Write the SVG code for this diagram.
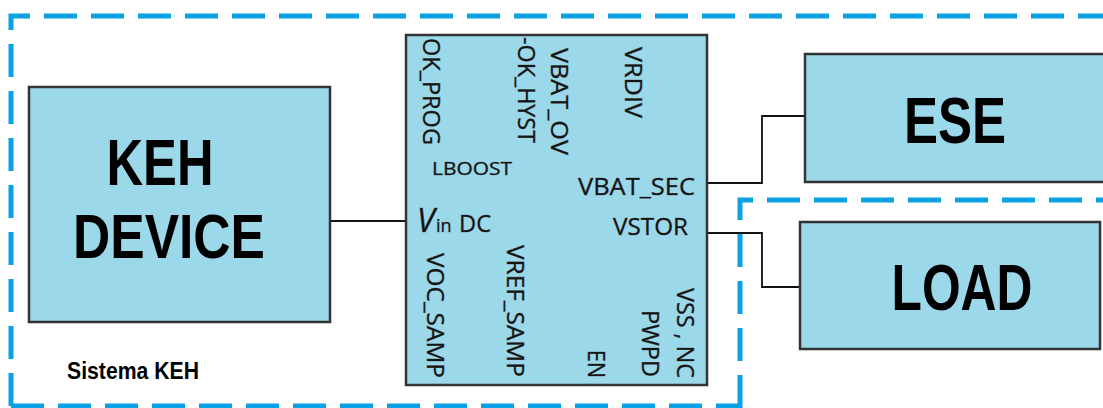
<svg xmlns="http://www.w3.org/2000/svg" width="1103" height="408" viewBox="0 0 1103 408">
<style>
.box{fill:#9bd8e9;stroke:#333;stroke-width:2.5}
.dash{fill:none;stroke:#0aa2e6;stroke-width:5;stroke-dasharray:33 14}
.wire{fill:none;stroke:#111;stroke-width:1.8}
.big{font-family:"Liberation Sans",Arial,sans-serif;font-weight:bold;fill:#000;text-anchor:middle}
.pin{font-family:"Open Sans","Noto Sans",sans-serif;fill:#141414;stroke:#5a6a70;stroke-width:0.5;paint-order:stroke}
</style>
<rect width="1103" height="408" fill="#fff"/>
<g id="boundaries">
<path class="dash" d="M11,406 V16 H1103"/>
<path class="dash" d="M11,406 H740"/>
<path class="dash" d="M740,408 V200 H1103"/>
</g>
<g id="connectors">
<path class="wire" d="M330,221 H406"/>
<path class="wire" d="M707,183 H762 V116 H805"/>
<path class="wire" d="M707,233 H762 V287 H800"/>
</g>
<g id="keh-device">
<rect class="box" x="29" y="87" width="301" height="235"/>
<text class="big" x="160" y="185" font-size="64" textLength="107" lengthAdjust="spacingAndGlyphs">KEH</text>
<text class="big" x="169" y="258" font-size="63" textLength="192" lengthAdjust="spacingAndGlyphs">DEVICE</text>
</g>
<g id="ic">
<rect class="box" x="406" y="35" width="301" height="350"/>
<text class="pin" font-size="23" transform="translate(423,38) rotate(90)" textLength="107" lengthAdjust="spacingAndGlyphs">OK_PROG</text>
<text class="pin" font-size="23" transform="translate(518,37) rotate(90)" textLength="106" lengthAdjust="spacingAndGlyphs">-OK_HYST</text>
<text class="pin" font-size="23" transform="translate(551,48) rotate(90)" textLength="107" lengthAdjust="spacingAndGlyphs">VBAT_OV</text>
<text class="pin" font-size="23" transform="translate(625,47) rotate(90)" textLength="71" lengthAdjust="spacingAndGlyphs">VRDIV</text>
<text class="pin" font-size="23" transform="translate(427,253) rotate(90)" textLength="125" lengthAdjust="spacingAndGlyphs">VOC_SAMP</text>
<text class="pin" font-size="23" transform="translate(507,245) rotate(90)" textLength="132" lengthAdjust="spacingAndGlyphs">VREF_SAMP</text>
<text class="pin" font-size="23" transform="translate(588,350) rotate(90)" textLength="28" lengthAdjust="spacingAndGlyphs">EN</text>
<text class="pin" font-size="23" transform="translate(642,310) rotate(90)" textLength="67" lengthAdjust="spacingAndGlyphs">PWPD</text>
<text class="pin" font-size="23" transform="translate(677,288) rotate(90)" textLength="90" lengthAdjust="spacingAndGlyphs">VSS , NC</text>
<text class="pin" font-size="18" x="432" y="175" textLength="80" lengthAdjust="spacingAndGlyphs">LBOOST</text>
<text class="pin" font-size="23" x="578" y="195" textLength="117" lengthAdjust="spacingAndGlyphs">VBAT_SEC</text>
<text class="pin" font-size="23" x="613" y="235" textLength="75" lengthAdjust="spacingAndGlyphs">VSTOR</text>
<text class="pin" x="417" y="232" font-size="32" font-style="italic">V</text>
<text class="pin" x="436" y="232" font-size="18">in</text>
<text class="pin" x="459" y="232" font-size="24" textLength="32" lengthAdjust="spacingAndGlyphs">DC</text>
</g>
<g id="ese">
<rect class="box" x="805" y="54" width="302" height="128"/>
<text class="big" x="955" y="143" font-size="64" textLength="102" lengthAdjust="spacingAndGlyphs">ESE</text>
</g>
<g id="load">
<rect class="box" x="800" y="222" width="300" height="127"/>
<text class="big" x="962" y="310" font-size="64" textLength="141" lengthAdjust="spacingAndGlyphs">LOAD</text>
</g>
<g id="label">
<text class="big" x="67" y="379" font-size="23" style="text-anchor:start" textLength="132" lengthAdjust="spacingAndGlyphs">Sistema KEH</text>
</g>
</svg>
